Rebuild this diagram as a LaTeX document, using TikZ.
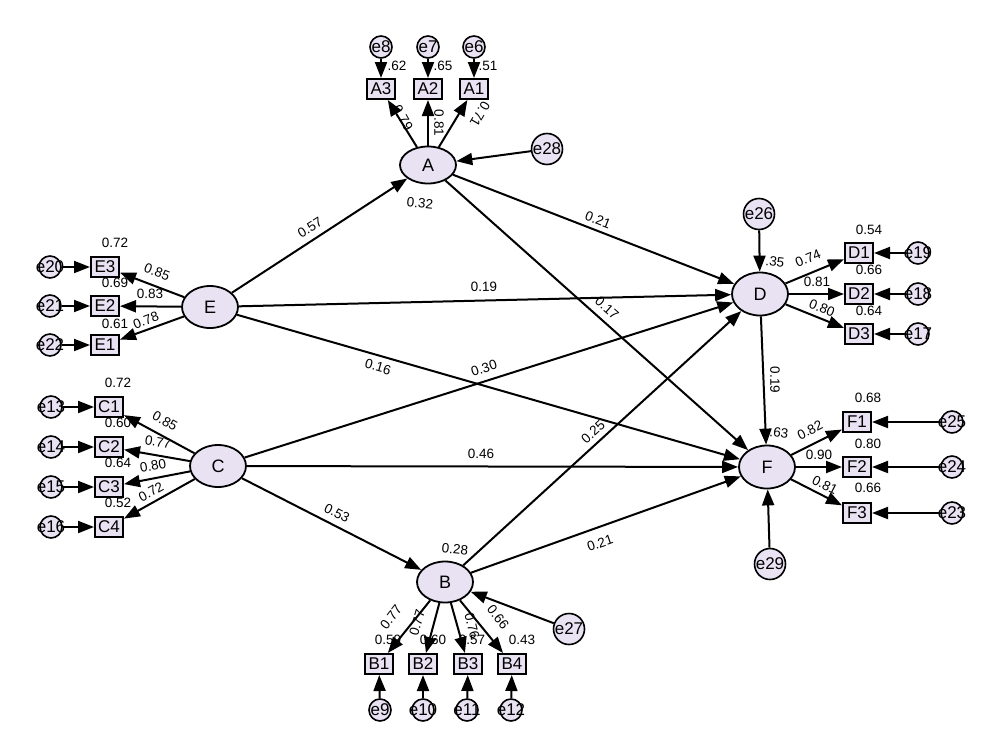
\documentclass[tikz,border=0pt]{standalone}
\usepackage{fontspec}
\setmainfont{Liberation Sans}
\usetikzlibrary{shapes.geometric,arrows.meta}
\definecolor{fillc}{RGB}{232,226,243}
\begin{document}
\begin{tikzpicture}[x=1pt,y=-1pt,
 lat/.style={ellipse,draw,line width=1.8pt,fill=fillc,minimum width=56pt,minimum height=42pt,inner sep=0pt,font=\fontsize{18}{18}\selectfont},
 obs/.style={rectangle,draw,line width=2pt,fill=fillc,minimum width=28pt,minimum height=20pt,inner sep=0pt,font=\fontsize{17}{17}\selectfont},
 errt/.style={font=\fontsize{17}{17}\selectfont,inner sep=0pt},
 err/.style={circle,draw,line width=1.6pt,fill=fillc,minimum size=22pt,inner sep=0pt,label={[errt]center:#1}},
 serr/.style={circle,draw,line width=1.6pt,fill=fillc,minimum size=31pt,inner sep=0pt,label={[errt]center:#1}},
 lbl/.style={font=\fontsize{13.5}{14}\selectfont,inner sep=0pt},
 arr/.style={-{Triangle[length=16pt,width=12pt]},line width=2pt}
]
\useasboundingbox[fill=white] (0,0) rectangle (1000,744);

% latent variables
\node[lat,minimum height=37pt] (A) at (428,165) {A};
\node[lat] (E) at (210,307) {E};
\node[lat] (C) at (218,466) {C};
\node[lat,minimum height=43pt] (D) at (760,294) {D};
\node[lat,minimum height=43pt] (F) at (767,467) {F};
\node[lat,minimum height=41pt] (B) at (445,582) {B};

% indicators A
\node[obs] (A3) at (381,89) {A3};
\node[obs] (A2) at (428,89) {A2};
\node[obs] (A1) at (474,89) {A1};
\node[err=e8] (e8) at (381,47) {};
\node[err=e7] (e7) at (428,47) {};
\node[err=e6] (e6) at (474,47) {};
\node[serr=e28] (e28) at (547,149) {};

% indicators E
\node[obs] (E3) at (105,267) {E3};
\node[obs] (E2) at (105,306) {E2};
\node[obs] (E1) at (105,345) {E1};
\node[err=e20] (e20) at (50,267) {};
\node[err=e21] (e21) at (50,306) {};
\node[err=e22] (e22) at (50,345) {};

% indicators C
\node[obs] (C1) at (109,407) {C1};
\node[obs] (C2) at (109,447) {C2};
\node[obs] (C3) at (109,487) {C3};
\node[obs] (C4) at (109,527) {C4};
\node[err=e13] (e13) at (51,407) {};
\node[err=e14] (e14) at (51,447) {};
\node[err=e15] (e15) at (51,487) {};
\node[err=e16] (e16) at (51,527) {};

% indicators D
\node[serr=e26] (e26) at (759,214) {};
\node[obs] (D1) at (859,253) {D1};
\node[obs] (D2) at (859,294) {D2};
\node[obs] (D3) at (859,334) {D3};
\node[err=e19] (e19) at (918,253) {};
\node[err=e18] (e18) at (918,294) {};
\node[err=e17] (e17) at (918,334) {};

% indicators F
\node[obs] (F1) at (857,422) {F1};
\node[obs] (F2) at (857,467) {F2};
\node[obs] (F3) at (857,513) {F3};
\node[err=e25] (e25) at (952,422) {};
\node[err=e24] (e24) at (952,467) {};
\node[err=e23] (e23) at (952,513) {};
\node[serr=e29] (e29) at (770,564) {};

% indicators B
\node[obs] (B1) at (379,664) {B1};
\node[obs] (B2) at (423,664) {B2};
\node[obs] (B3) at (468,664) {B3};
\node[obs] (B4) at (512,664) {B4};
\node[err=e9] (e9) at (380,710) {};
\node[err=e10] (e10) at (423,710) {};
\node[err=e11] (e11) at (467,710) {};
\node[err=e12] (e12) at (511,710) {};
\node[serr=e27] (e27) at (569,629) {};

% structural paths
\draw[arr] (E) -- (A);
\draw[arr] (A) -- (D);
\draw[arr] (A) -- (F);
\draw[arr] (E) -- (D);
\draw[arr] (E) -- (F);
\draw[arr] (C) -- (D);
\draw[arr] (C) -- (F);
\draw[arr] (C) -- (B);
\draw[arr] (B) -- (D);
\draw[arr] (B) -- (F);
\draw[arr] (D) -- (F);
\draw[arr] (e28) -- (A);
\draw[arr] (e26) -- (D);
\draw[arr] (e29) -- (F);
\draw[arr] (e27) -- (B);

% loadings
\foreach \i in {A1,A2,A3} {\draw[arr] (A) -- (\i);}
\foreach \i in {E1,E2,E3} {\draw[arr] (E) -- (\i);}
\foreach \i in {C1,C2,C3,C4} {\draw[arr] (C) -- (\i);}
\foreach \i in {D1,D2,D3} {\draw[arr] (D) -- (\i);}
\foreach \i in {F1,F2,F3} {\draw[arr] (F) -- (\i);}
\foreach \i in {B1,B2,B3,B4} {\draw[arr] (B) -- (\i);}

% error arrows
\draw[arr] (e8) -- (A3);
\draw[arr] (e7) -- (A2);
\draw[arr] (e6) -- (A1);
\draw[arr] (e20) -- (E3);
\draw[arr] (e21) -- (E2);
\draw[arr] (e22) -- (E1);
\draw[arr] (e13) -- (C1);
\draw[arr] (e14) -- (C2);
\draw[arr] (e15) -- (C3);
\draw[arr] (e16) -- (C4);
\draw[arr] (e19) -- (D1);
\draw[arr] (e18) -- (D2);
\draw[arr] (e17) -- (D3);
\draw[arr] (e25) -- (F1);
\draw[arr] (e24) -- (F2);
\draw[arr] (e23) -- (F3);
\draw[arr] (e9) -- (B1);
\draw[arr] (e10) -- (B2);
\draw[arr] (e11) -- (B3);
\draw[arr] (e12) -- (B4);

% labels: A
\node[lbl] (lA3r) at (397,66) {.62};
\node[lbl] (lA2r) at (443,66) {.65};
\node[lbl] (lA1r) at (488,66) {.51};
\node[lbl,rotate=-60] (lA3) at (403,118) {0.79};
\node[lbl,rotate=-90] (lA2) at (439,123) {0.81};
\node[lbl,rotate=-120] (lA1) at (480,114) {0.71};
\node[lbl,rotate=-6] (lAr) at (420,203) {0.32};

% structural labels
\node[lbl,rotate=32] (l1) at (310,228) {0.57};
\node[lbl,rotate=-21] (l2) at (598,220) {0.21};
\node[lbl,rotate=1] (l3) at (484,287) {0.19};
\node[lbl,rotate=-41] (l4) at (607,308) {0.17};
\node[lbl,rotate=-16] (l5) at (378,367) {0.16};
\node[lbl,rotate=18] (l6) at (484,368) {0.30};
\node[lbl,rotate=42] (l7) at (593,432) {0.25};
\node[lbl] (l8) at (481,454) {0.46};
\node[lbl,rotate=-27] (l9) at (337,513) {0.53};
\node[lbl,rotate=-6] (lBr) at (455,549) {0.28};
\node[lbl,rotate=19] (l10) at (600,543) {0.21};
\node[lbl,rotate=-90] (l11) at (775,380) {0.19};

% E labels
\node[lbl] (lE3r) at (115,243) {0.72};
\node[lbl,rotate=-21] (lE3) at (157,272) {0.85};
\node[lbl] (lE2r) at (115,283) {0.69};
\node[lbl] (lE2) at (150,294) {0.83};
\node[lbl] (lE1r) at (115,324) {0.61};
\node[lbl,rotate=21] (lE1) at (146,320) {0.78};

% C labels
\node[lbl] (lC1r) at (118,383) {0.72};
\node[lbl,rotate=-29] (lC1) at (165,421) {0.85};
\node[lbl] (lC2r) at (118,423) {0.60};
\node[lbl,rotate=-10] (lC2) at (158,442) {0.77};
\node[lbl] (lC3r) at (118,463) {0.64};
\node[lbl,rotate=10] (lC3) at (153,466) {0.80};
\node[lbl] (lC4r) at (118,503) {0.52};
\node[lbl,rotate=29] (lC4) at (151,492) {0.72};

% D labels
\node[lbl,rotate=-8] (lDr) at (775,262) {.35};
\node[lbl] (lD1r) at (869,230) {0.54};
\node[lbl,rotate=22] (lD1) at (808,258) {0.74};
\node[lbl] (lD2r) at (869,270) {0.66};
\node[lbl] (lD2) at (817,282) {0.81};
\node[lbl] (lD3r) at (869,311) {0.64};
\node[lbl,rotate=-22] (lD3) at (822,308) {0.80};

% F labels
\node[lbl,rotate=-8] (lFr) at (779,433) {.63};
\node[lbl,rotate=27] (lF1) at (810,430) {0.82};
\node[lbl] (lF1r) at (868,398) {0.68};
\node[lbl] (lF2) at (819,455) {0.90};
\node[lbl] (lF2r) at (868,444) {0.80};
\node[lbl,rotate=-27] (lF3) at (825,485) {0.81};
\node[lbl] (lF3r) at (868,488) {0.66};

% B labels
\node[lbl,rotate=52] (lB1) at (391,617) {0.77};
\node[lbl,rotate=74] (lB2) at (417,623) {0.77};
\node[lbl,rotate=-76] (lB3) at (472,626) {0.76};
\node[lbl,rotate=-52] (lB4) at (498,617) {0.66};
\node[lbl] (lB1r) at (388,640) {0.59};
\node[lbl] (lB2r) at (433,640) {0.60};
\node[lbl] (lB3r) at (472,640) {0.57};
\node[lbl] (lB4r) at (522,640) {0.43};
\end{tikzpicture}
\end{document}
